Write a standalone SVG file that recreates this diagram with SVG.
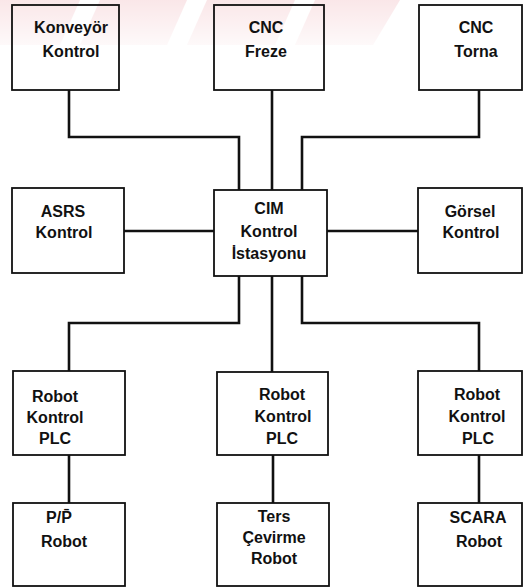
<svg xmlns="http://www.w3.org/2000/svg" width="524" height="588" viewBox="0 0 524 588">
  <defs>
    <linearGradient id="wm" x1="0" y1="0" x2="0" y2="1">
      <stop offset="0" stop-color="#f4c3c8"/>
      <stop offset="1" stop-color="#fdf2f3"/>
    </linearGradient>
    <style>
      .box { fill: none; stroke: #111; stroke-width: 1.8; }
      .wire { fill: none; stroke: #111; stroke-width: 2.6; stroke-linejoin: miter; }
      .lbl { font-family: "Liberation Sans", Arial, sans-serif; font-weight: bold; font-size: 16px; fill: #111; text-anchor: middle; }
    </style>
  </defs>
  <rect width="524" height="588" fill="#fff"/>

  <!-- faint header band -->
  <g id="band" fill="url(#wm)" opacity="0.4">
    <polygon points="0,0 80,0 60,45 0,45"/>
    <polygon points="100,0 187,0 167,45 80,45"/>
    <polygon points="207,0 295,0 275,45 187,45"/>
    <polygon points="315,0 400,0 373,45 295,45"/>
  </g>

  <g id="connectors">
    <path class="wire" d="M69,90 V137 H239 V190"/>
    <path class="wire" d="M272,90 V190"/>
    <path class="wire" d="M479,90 V137 H302 V190"/>
    <path class="wire" d="M124,231 H214"/>
    <path class="wire" d="M327,231 H418"/>
    <path class="wire" d="M239,276 V323 H69 V371"/>
    <path class="wire" d="M272,276 V372"/>
    <path class="wire" d="M302,276 V323 H479 V371"/>
    <path class="wire" d="M69,455 V503"/>
    <path class="wire" d="M273,455 V503"/>
    <path class="wire" d="M479,455 V503"/>
  </g>

  <g id="konveyor">
    <rect class="box" x="12" y="5" width="107" height="85"/>
    <text class="lbl" x="71" y="33">Konveyör</text>
    <text class="lbl" x="71" y="57">Kontrol</text>
  </g>
  <g id="cnc-freze">
    <rect class="box" x="214" y="5" width="110" height="85"/>
    <text class="lbl" x="266" y="33">CNC</text>
    <text class="lbl" x="266" y="57">Freze</text>
  </g>
  <g id="cnc-torna">
    <rect class="box" x="419" y="5" width="103" height="85"/>
    <text class="lbl" x="476" y="33">CNC</text>
    <text class="lbl" x="476" y="57">Torna</text>
  </g>

  <g id="asrs">
    <rect class="box" x="12" y="188" width="112" height="85"/>
    <text class="lbl" x="63" y="217">ASRS</text>
    <text class="lbl" x="64" y="238">Kontrol</text>
  </g>
  <g id="cim">
    <rect class="box" x="214" y="190" width="113" height="86"/>
    <text class="lbl" x="269" y="214">CIM</text>
    <text class="lbl" x="269" y="237">Kontrol</text>
    <text class="lbl" x="269" y="259">İstasyonu</text>
  </g>
  <g id="gorsel">
    <rect class="box" x="418" y="188" width="104" height="85"/>
    <text class="lbl" x="470" y="217">Görsel</text>
    <text class="lbl" x="471" y="238">Kontrol</text>
  </g>

  <g id="plc-1">
    <rect class="box" x="13" y="371" width="112" height="84"/>
    <text class="lbl" x="55" y="402">Robot</text>
    <text class="lbl" x="55" y="423">Kontrol</text>
    <text class="lbl" x="55" y="444">PLC</text>
  </g>
  <g id="plc-2">
    <rect class="box" x="217" y="372" width="111" height="83"/>
    <text class="lbl" x="282" y="400">Robot</text>
    <text class="lbl" x="283" y="422">Kontrol</text>
    <text class="lbl" x="282" y="444">PLC</text>
  </g>
  <g id="plc-3">
    <rect class="box" x="418" y="371" width="104" height="84"/>
    <text class="lbl" x="477" y="400">Robot</text>
    <text class="lbl" x="477" y="422">Kontrol</text>
    <text class="lbl" x="478" y="444">PLC</text>
  </g>

  <g id="pp-robot">
    <rect class="box" x="13" y="503" width="112" height="83"/>
    <text class="lbl" x="59" y="523">P/P̄</text>
    <text class="lbl" x="64" y="547">Robot</text>
  </g>
  <g id="ters-robot">
    <rect class="box" x="217" y="503" width="112" height="83"/>
    <text class="lbl" x="274" y="522">Ters</text>
    <text class="lbl" x="274" y="543">Çevirme</text>
    <text class="lbl" x="274" y="564">Robot</text>
  </g>
  <g id="scara-robot">
    <rect class="box" x="418" y="503" width="104" height="83"/>
    <text class="lbl" x="478" y="523">SCARA</text>
    <text class="lbl" x="479" y="547">Robot</text>
  </g>
</svg>
